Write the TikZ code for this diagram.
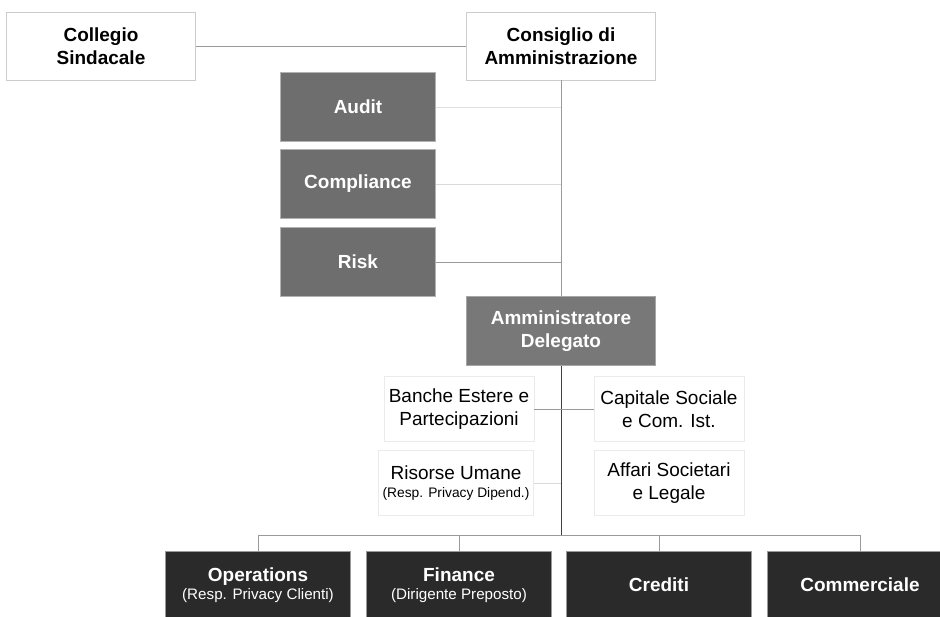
\documentclass[tikz,border=0pt]{standalone}
\usepackage{fontspec}
\setmainfont{Liberation Sans}
\usepackage{tikz}
\usepackage{xcolor}

\definecolor{staffgray}{HTML}{6E6E6E}
\definecolor{adgray}{HTML}{787878}
\definecolor{dirblack}{HTML}{2A2A2A}
\definecolor{linegray}{HTML}{9A9A9A}

\tikzset{
  boardbox/.style={draw=black!20, fill=white, align=center, minimum width=4.725cm, minimum height=1.7cm, font=\bfseries\fontsize{13.5}{16}\selectfont},
  staffbox/.style={draw=black!30, fill=staffgray, text=white, align=center, minimum width=3.875cm, minimum height=1.725cm, font=\bfseries\fontsize{13.5}{16}\selectfont},
  unitbox/.style={draw=black!8, fill=white, align=center, minimum width=3.75cm, minimum height=1.625cm, font=\fontsize{13.5}{16}\selectfont},
  dirbox/.style={draw=black!40, fill=dirblack, text=white, align=center, minimum width=4.625cm, minimum height=1.7cm, font=\bfseries\fontsize{13.5}{15}\selectfont},
  link/.style={draw=linegray, line width=0.6pt},
}

\begin{document}
\begin{tikzpicture}[x=0.025cm, y=-0.025cm]
    \useasboundingbox (0,0) rectangle (940,617);

    \node[boardbox] (cs) at (101,46) {Collegio\\Sindacale};
    \node[boardbox] (cda) at (561,46) {Consiglio di\\Amministrazione};

    \node[staffbox] (audit) at (358,107) {Audit};
    \node[staffbox] (compl) at (358,184) {Compliance};
    \node[staffbox] (risk) at (358,262) {Risk};

    \node[boardbox, fill=adgray, draw=black!35, text=white, minimum height=1.725cm] (ad) at (561,331) {Amministratore\\Delegato};

    \node[unitbox] (banche) at (459,409) {Banche Estere e\\Partecipazioni};
    \node[unitbox] (capitale) at (669,409) {Capitale Sociale\\e Com. Ist.};
    \node[unitbox, minimum width=3.875cm, inner xsep=1pt] (risorse) at (456,483) {Risorse Umane\\[-3pt]{\fontsize{9.8}{11}\selectfont(Resp. Privacy Dipend.)}};
    \node[unitbox] (affari) at (669,483) {Affari Societari\\e Legale};

    \node[dirbox] (oper) at (258,585) {Operations\\[-2pt]{\mdseries\fontsize{10.8}{12}\selectfont(Resp. Privacy Clienti)}};
    \node[dirbox] (fin) at (459,585) {Finance\\[-2pt]{\mdseries\fontsize{10.8}{12}\selectfont(Dirigente Preposto)}};
    \node[dirbox] (cred) at (659,585) {Crediti};
    \node[dirbox] (comm) at (860,585) {Commerciale};

    \coordinate (bus) at (561,535);

    % board level
    \draw[link] (cs) -- (cda);
    \draw[link] (cda) -- (ad);
    \draw[link, draw=black!12] (audit.east) -- (audit.east -| cda);
    \draw[link, draw=black!15] (compl.east) -- (compl.east -| cda);
    \draw[link] (risk.east) -- (risk.east -| cda);

    % staff of the AD
    \draw[link, draw=black!75] (ad) -- (bus);
    \draw[link] (banche) -- (capitale);
    \draw[link, draw=black!15] (risorse.east) -- (risorse.east -| bus);

    % directions
    \draw[link] (oper.north |- bus) -- (comm.north |- bus);
    \draw[link] (oper.north |- bus) -- (oper.north);
    \draw[link] (fin.north |- bus) -- (fin.north);
    \draw[link] (cred.north |- bus) -- (cred.north);
    \draw[link] (comm.north |- bus) -- (comm.north);
\end{tikzpicture}
\end{document}
